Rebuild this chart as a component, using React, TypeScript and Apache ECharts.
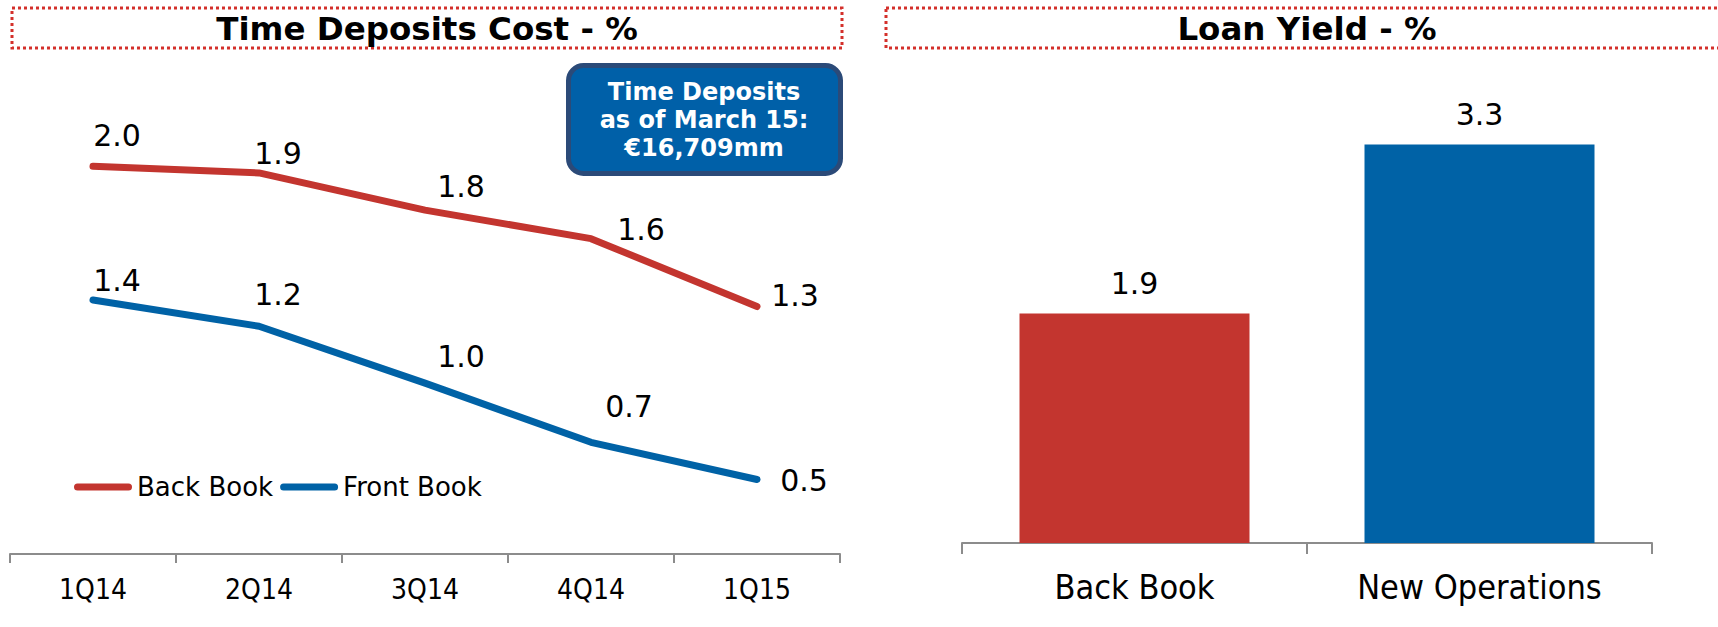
import React, { useEffect, useRef } from "react";
import * as echarts from "echarts";

const quarters = ["1Q14", "2Q14", "3Q14", "4Q14", "1Q15"];
const backBook = [1.97, 1.94, 1.77, 1.64, 1.33];
const frontBook = [1.36, 1.24, 0.98, 0.71, 0.54];
const yieldCategories = ["Back Book", "New Operations"];
const yieldValues = [1.9, 3.3];
const leftTitle = "Time Deposits Cost - %";
const rightTitle = "Loan Yield - %";
const boxText = "Time Deposits\nas of March 15:\n€16,709mm";

// label offsets (relative to each point), layout only
const backLabelOffsets = [[24, -31], [19, -19], [36, -24], [50, -9], [38, -11]];
const frontLabelOffsets = [[24, -19], [19, -32], [36, -27], [38, -36], [47, 1]];

const RED = "#C3352F";
const BLUE = "#0062A6";
const FONT = "'DejaVu Sans', Verdana, sans-serif";
const COND = "'DejaVu Sans Condensed', 'DejaVu Sans', sans-serif";
const AXIS_GRAY = "#8c8c8c";
const DOT_RED = "#D4302B";

export default function App() {
  const ref = useRef<HTMLDivElement>(null);
  useEffect(() => {
    if (!ref.current) return;
    const chart = echarts.init(ref.current, undefined, { renderer: "svg" });
    const fmt = (p: any) => Number(p.value).toFixed(1);
    const lineLabel = {
      show: true,
      position: "inside",
      formatter: fmt,
      fontSize: 30,
      fontFamily: FONT,
      color: "#000",
      textBorderWidth: 0,
    };
    const option: any = {
      animation: false,
      backgroundColor: "#fff",
      grid: [
        { left: 10, width: 830, top: 116, height: 438 },
        { left: 962, width: 690, top: 60, height: 483 },
      ],
      xAxis: [
        {
          type: "category",
          gridIndex: 0,
          data: quarters,
          axisLine: { show: true, lineStyle: { color: AXIS_GRAY, width: 2 } },
          axisTick: { show: true, alignWithLabel: false, length: 9, lineStyle: { color: AXIS_GRAY, width: 2 } },
          axisLabel: { fontSize: 28, fontFamily: COND, color: "#000", margin: 21 },
        },
        {
          type: "category",
          gridIndex: 1,
          data: yieldCategories,
          axisLine: { show: true, lineStyle: { color: AXIS_GRAY, width: 2 } },
          axisTick: { show: true, alignWithLabel: false, length: 11, lineStyle: { color: AXIS_GRAY, width: 2 } },
          axisLabel: { fontSize: 34, fontFamily: COND, color: "#000", margin: 27 },
        },
      ],
      yAxis: [
        { type: "value", gridIndex: 0, min: 0.2, max: 2.2, show: false, splitLine: { show: false } },
        { type: "value", gridIndex: 1, min: 0, max: 4, show: false, splitLine: { show: false } },
      ],
      legend: {
        data: ["Back Book", "Front Book"],
        left: 69,
        top: 469,
        itemWidth: 58,
        itemHeight: 7,
        itemGap: 7,
        selectedMode: false,
        icon: "path://M3.5,0 H54.5 A3.5,3.5 0 0 1 54.5,7 H3.5 A3.5,3.5 0 0 1 3.5,0 Z",
        textStyle: { fontSize: 26, fontFamily: FONT, color: "#000" },
      },
      series: [
        {
          type: "line",
          name: "Back Book",
          xAxisIndex: 0,
          yAxisIndex: 0,
          data: backBook.map((v, i) => ({ value: v, label: { offset: backLabelOffsets[i] } })),
          symbol: "circle",
          symbolSize: 1,
          showSymbol: true,
          itemStyle: { color: RED },
          lineStyle: { color: RED, width: 7, cap: "round", join: "round" },
          label: lineLabel,
        },
        {
          type: "line",
          name: "Front Book",
          xAxisIndex: 0,
          yAxisIndex: 0,
          data: frontBook.map((v, i) => ({ value: v, label: { offset: frontLabelOffsets[i] } })),
          symbol: "circle",
          symbolSize: 1,
          showSymbol: true,
          itemStyle: { color: BLUE },
          lineStyle: { color: BLUE, width: 7, cap: "round", join: "round" },
          label: lineLabel,
        },
        {
          type: "bar",
          name: "Loan Yield",
          xAxisIndex: 1,
          yAxisIndex: 1,
          barWidth: 230,
          data: yieldValues.map((v, i) => ({ value: v, itemStyle: { color: i === 0 ? RED : BLUE } })),
          label: {
            show: true,
            position: "top",
            distance: 15,
            formatter: fmt,
            fontSize: 30,
            fontFamily: FONT,
            color: "#000",
          },
        },
      ],
      graphic: [
        {
          type: "rect",
          shape: { x: 12, y: 8, width: 830, height: 40 },
          style: { fill: "none", stroke: DOT_RED, lineWidth: 3, lineDash: [3, 3], lineCap: "butt" },
        },
        {
          type: "rect",
          shape: { x: 886, y: 8, width: 850, height: 40 },
          style: { fill: "none", stroke: DOT_RED, lineWidth: 3, lineDash: [3, 3], lineCap: "butt" },
        },
        {
          type: "text",
          x: 427,
          y: 29,
          style: {
            text: leftTitle,
            font: `bold 32.5px ${FONT}`,
            fill: "#000",
            align: "center",
            verticalAlign: "middle",
          },
        },
        {
          type: "text",
          x: 1307,
          y: 29,
          style: {
            text: rightTitle,
            font: `bold 32.5px ${FONT}`,
            fill: "#000",
            align: "center",
            verticalAlign: "middle",
          },
        },
        {
          type: "rect",
          shape: { x: 568.5, y: 65.5, width: 272, height: 108, r: 15 },
          style: { fill: "#0060A8", stroke: "#2B4A78", lineWidth: 5 },
        },
        {
          type: "text",
          x: 704,
          y: 120,
          style: {
            text: boxText,
            font: `bold 24px ${FONT}`,
            lineHeight: 28,
            fill: "#fff",
            align: "center",
            verticalAlign: "middle",
          },
        },
      ],
    };
    chart.setOption(option);
    return () => chart.dispose();
  }, []);
  return (
    <div
      ref={ref}
      style={{ position: "absolute", left: 0, top: 0, width: 1718, height: 627 }}
    />
  );
}
